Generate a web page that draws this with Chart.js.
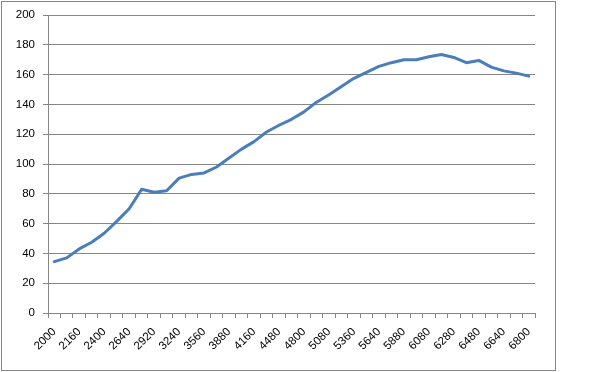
<!DOCTYPE html>
<html>
<head>
<meta charset="utf-8">
<script src="https://cdn.jsdelivr.net/npm/chart.js@4/dist/chart.umd.min.js"></script>
<style>
  html, body { margin: 0; padding: 0; background: #fff; }
  #wrap { position: absolute; left: 0; top: 0; width: 614px; height: 372px; }
</style>
</head>
<body>
<div id="wrap"><canvas id="c" width="614" height="372"></canvas></div>
<script>
// Visible tick labels (every other category)
const tickLabels = ['2000','2160','2400','2640','2920','3240','3560','3880','4160','4480',
                    '4800','5080','5360','5640','5880','6080','6280','6480','6640','6800'];
// Series values, one per category (39 categories)
const values = [34.5, 37, 43, 47.5, 53.5, 61.5, 70, 83, 81, 82,
                90.5, 93, 94, 98, 104, 110, 115, 121.5, 126, 130,
                135, 141.5, 146.5, 152, 157.5, 161.5, 165.5, 168, 170, 170,
                172, 173.5, 171.5, 168, 169.5, 165, 162.5, 161, 159];
const yTicks = { min: 0, max: 200, step: 20 };

// Categories: labelled ones at even positions, unlabelled ones in between
const categories = values.map((v, i) => (i % 2 === 0 ? tickLabels[i / 2] : ''));

const gridGray = '#868686';
const font = { family: '"Liberation Sans", Arial, sans-serif', size: 11.5 };

const borderPlugin = {
  id: 'outerBorder',
  afterDraw(chart) {
    const ctx = chart.ctx;
    ctx.save();
    ctx.strokeStyle = '#868686';
    ctx.lineWidth = 1;
    ctx.strokeRect(1.5, 1.5, 554, 369);
    ctx.restore();
  }
};

new Chart(document.getElementById('c'), {
  type: 'line',
  data: {
    labels: categories,
    datasets: [{
      data: values,
      borderColor: '#4A7EBB',
      borderWidth: 3,
      pointRadius: 0,
      tension: 0,
      fill: false,
      borderJoinStyle: 'round',
      borderCapStyle: 'round'
    }]
  },
  options: {
    responsive: false,
    animation: false,
    devicePixelRatio: 1,
    layout: { padding: { top: 15, right: 79, left: 0, bottom: 0 } },
    plugins: { legend: { display: false }, tooltip: { enabled: false } },
    scales: {
      x: {
        type: 'category',
        offset: true,
        grid: { offset: true, drawOnChartArea: false, drawTicks: true, tickLength: 5, color: gridGray },
        border: { color: gridGray, width: 1 },
        ticks: {
          autoSkip: false, minRotation: 45, maxRotation: 45, padding: 7,
          color: '#000', font: font
        },
        afterFit(s) { s.height = 59; }
      },
      y: {
        min: yTicks.min, max: yTicks.max,
        grid: { color: gridGray, tickLength: 5, drawTicks: true },
        border: { color: gridGray, width: 1 },
        ticks: { stepSize: yTicks.step, padding: 8, color: '#000', font: font },
        afterFit(s) { s.width = 48; }
      }
    }
  },
  plugins: [borderPlugin]
});
</script>
</body>
</html>
